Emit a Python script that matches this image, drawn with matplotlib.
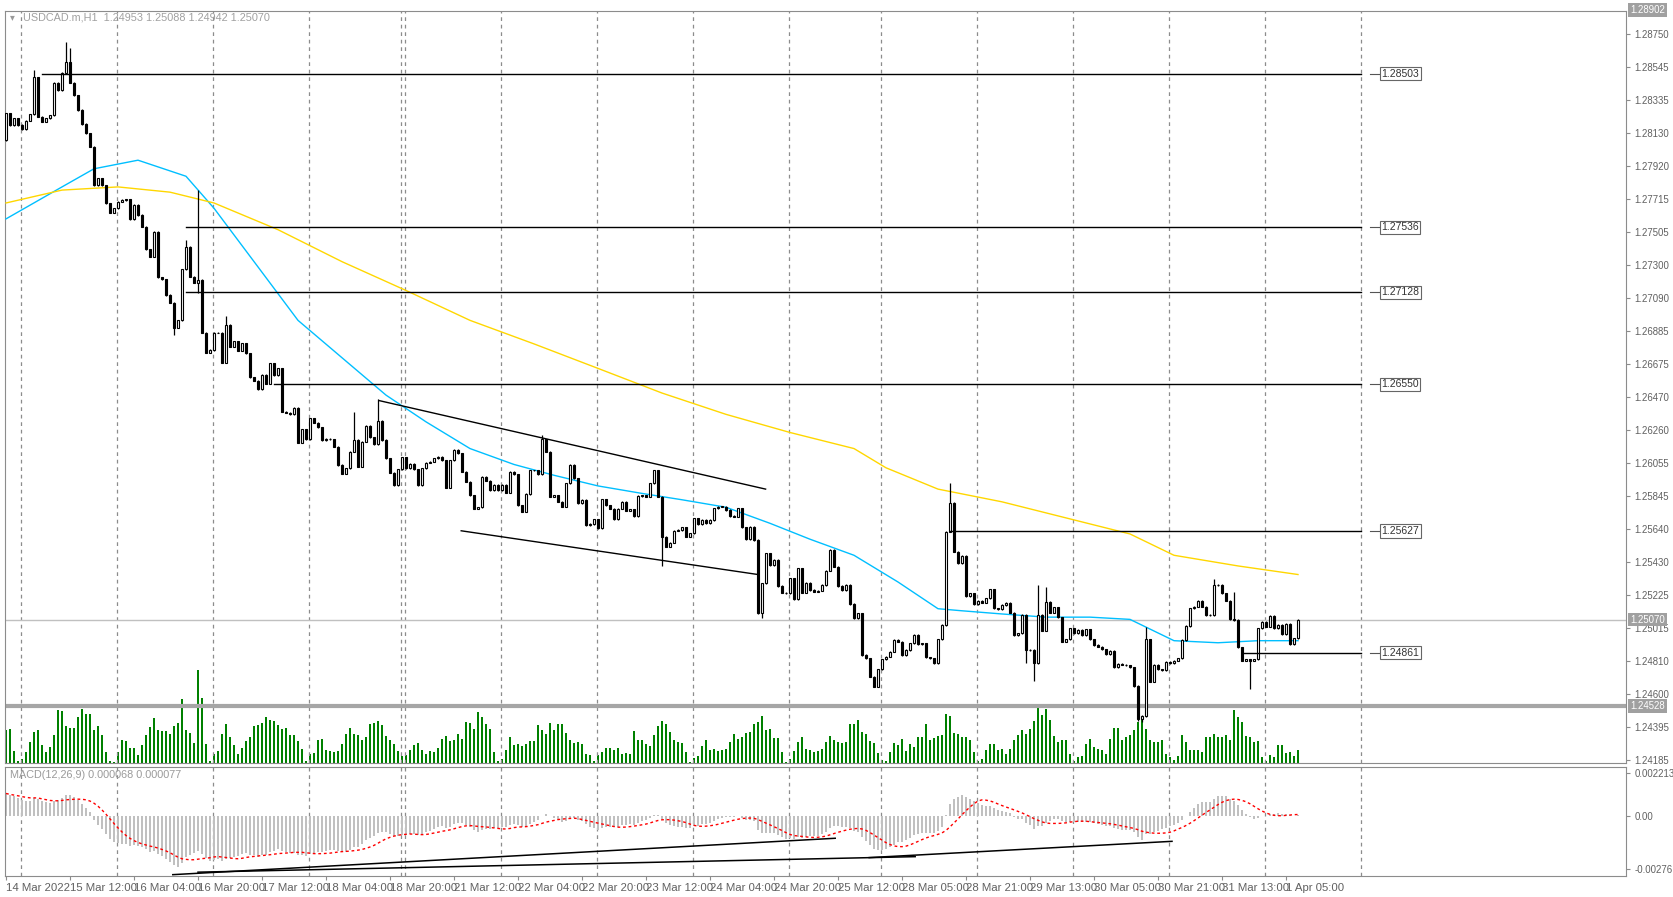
import numpy as np
import pandas as pd
import matplotlib
matplotlib.use("Agg")
import matplotlib.pyplot as plt
from matplotlib.patches import Rectangle
import matplotlib.transforms as mtrans

plt.rcParams['font.family'] = ['Liberation Sans', 'DejaVu Sans']

# ---------------- data ----------------
first_open = 1.28084
closes = [
1.28252,1.28179,1.28221,1.28179,1.28151,1.28206,1.28246,1.28478,1.28231,1.28200,
1.28221,1.28241,1.28445,1.28399,1.28508,1.28573,1.28445,1.28367,1.28273,1.28185,
1.28126,1.28042,1.27801,1.27843,1.27801,1.27686,1.27627,1.27655,1.27697,1.27707,
1.27711,1.27586,1.27676,1.27613,1.27539,1.27397,1.27351,1.27508,1.27221,1.27208,
1.27110,1.27061,1.26904,1.26952,1.27271,1.27414,1.27225,1.27189,1.27204,1.26873,
1.26747,1.26764,1.26873,1.26873,1.26684,1.26921,1.26785,1.26820,1.26760,1.26806,
1.26743,1.26592,1.26571,1.26517,1.26607,1.26554,1.26680,1.26607,1.26649,1.26376,
1.26370,1.26361,1.26403,1.26181,1.26265,1.26202,1.26334,1.26307,1.26278,1.26198,
1.26208,1.26202,1.26156,1.26041,
1.25988,1.26020,1.26125,1.26198,1.26030,1.26188,1.26286,1.26215,1.26173,1.26320,
1.26198,1.26083,1.25993,1.25915,1.26014,1.26089,1.26020,1.26051,1.26014,1.25915,
1.26020,1.26056,1.26062,1.26083,1.26093,1.26072,1.25900,1.26072,1.26139,1.26114,
1.25999,1.25936,1.25852,1.25768,1.25775,1.25968,1.25942,1.25884,1.25915,1.25884,
1.25915,1.25867,1.25999,1.25984,1.25789,1.25747,1.25859,1.26009,1.26009,1.25984,
1.26202,1.26125,1.25842,1.25852,1.25810,1.25779,1.25926,1.26041,1.25957,1.25800,
1.25821,1.25664,1.25670,1.25699,1.25643,1.25825,1.25789,1.25768,1.25699,1.25768,
1.25810,1.25754,1.25762,1.25720,1.25846,1.25852,1.25842,1.25926,1.26009,1.25842,
1.25590,1.25527,1.25553,
1.25629,1.25633,1.25650,1.25591,1.25612,1.25706,1.25671,1.25696,1.25675,1.25696,
1.25769,1.25780,1.25780,1.25759,1.25721,1.25717,1.25769,1.25650,1.25574,1.25654,
1.25570,1.25109,1.25298,1.25486,1.25413,1.25444,1.25281,1.25239,1.25235,1.25329,
1.25197,1.25392,1.25239,1.25302,1.25256,1.25245,1.25251,1.25287,1.25377,1.25507,
1.25402,1.25281,1.25256,1.25287,1.25168,1.25078,1.25109,1.24847,1.24826,1.24711,
1.24648,1.24757,1.24820,1.24836,1.24868,1.24941,1.24931,1.24847,1.24878,1.24920,
1.24973,1.24916,1.24920,1.24832,1.24826,1.24795,1.24945,1.25036,1.25623,1.25805,
1.25497,1.25423,1.25470,1.25218,1.25235,1.25168,1.25189,1.25176,1.25203,1.25260,
1.25140,1.25134,
1.25161,1.25176,1.25113,1.24973,1.24983,1.25098,1.24878,1.24878,1.24794,1.25098,
1.25000,1.25182,1.25113,1.25146,1.25084,1.24931,1.24945,1.25014,1.24983,1.25004,
1.24973,1.25008,1.24945,1.24910,1.24899,1.24882,1.24853,1.24874,1.24769,1.24790,
1.24786,1.24782,1.24769,1.24652,1.24442,1.24463,1.24945,1.24679,1.24784,1.24757,
1.24752,1.24805,1.24794,1.24811,1.24826,1.24941,1.25029,1.25140,1.25151,1.25188,
1.25151,1.25098,1.25098,1.25287,1.25287,1.25235,1.25188,1.25071,1.25067,1.24895,
1.24811,1.24820,1.24811,1.24820,1.25014,1.25056,1.25025,1.25092,1.25014,1.25035,
1.24979,1.25042,1.24916,1.24952,1.25070]

default_wick = 0.00004
spike_high_bars = [7, 15, 16, 45, 48, 55, 87, 93, 134, 236, 258, 260, 285, 302, 307]
spike_high_vals = [1.28524, 1.28703, 1.28661, 1.27456, 1.27770, 1.26978, 1.26376, 1.26454,
                   1.26230, 1.25926, 1.25287, 1.25272, 1.25021, 1.25323, 1.25245]
spike_low_bars = [42, 48, 164, 188, 189, 217, 255, 257, 283, 284, 311]
spike_low_vals = [1.26858, 1.27120, 1.25406, 1.25105, 1.25082, 1.24644, 1.24799, 1.24685,
                  1.24434, 1.24428, 1.24631]

# tick volume (relative units)
vol_tops_a = [118,115,183,213,205,185,155,125,120,165,185,170,135,60,63,108,113,113,80,57,70,72,120,107,135,185,213,215,185,150,153,172,172,195,165,135,110,84,118,122,122,130,108,97,25,118,128,158,-60,22,160,213,190,182,130,102,140,165,190,172,153,140,107,105,98,80,90,92,105,115,112,135,133,153,175,213,190,188,150,145,180,183,185,182,162,130,113,130,135,150,140,100,97,92,105,137,148,160,183,196,195,180,165,158,180,190,183,185,173,145,138,152,148,130,145,95,97,115,65,80,100,115,185,213,205,180,140,165,160,168,160,152,152,103,120,130,98,118,100,100,128,150,158,155,160,190,193,213,195,185,172,172,178,172,192,188,190,122,150,148,162,168]
vol_tops_b = [135,108,93,100,125,148,155,157,185,215,203,198,168,150,180,175,183,180,175,155,132,145,140,128,125,100,95,78,118,115,143,143,185,215,205,182,155,140,175,180,185,182,175,155,138,150,155,157,155,100,102,90,125,130,152,158,188,208,213,185,158,165,145,182,162,170,140,140,102,148,143,136,133,70,78,128,130,140,140,150,185,213,207,180,160,160,180,175,190,175,150,135,118,130,115,93,53,75,55,90,138,155,150,150,190,213,200,198,160,145,170,175,180,190,145,113,113,150,140,135,120,95,80,115,150,155,155,150,190,200,210,198,135,155,180,178,178,185,140,140,132,140,140,135,148,60,80,95,138,140,155,152,200,213,195,200,165,165,188,185,198,180]

ma_fast_bars = [0,14,22,33,45,52,63,73,84,95,105,116,127,137,148,159,169,180,191,201,212,223,233,239,249,260,271,281,292,303,313,323]
ma_fast_vals = [1.27589,1.27790,1.27904,1.27958,1.27857,1.27656,1.27287,1.26951,1.26716,1.26481,1.26313,1.26145,1.26045,1.25977,1.25910,1.25863,1.25823,1.25776,1.25675,1.25575,1.25474,1.25306,1.25138,1.25125,1.25105,1.25085,1.25085,1.25071,1.24937,1.24924,1.24937,1.24937]
ma_slow_bars = [0,14,28,41,52,68,84,100,116,132,148,164,180,196,212,220,233,249,265,281,292,308,323]
ma_slow_vals = [1.27689,1.27770,1.27790,1.27757,1.27689,1.27521,1.27320,1.27139,1.26951,1.26803,1.26649,1.26494,1.26360,1.26246,1.26145,1.26024,1.25890,1.25810,1.25709,1.25608,1.25474,1.25407,1.25353]

level_values = [1.28503, 1.27536, 1.27128, 1.26550, 1.25627, 1.24861]
level_start = [9, 45, 45, 67, 236, 309]
channel_top = [(93.2, 1.26447), (189.9, 1.25890)]
channel_bot = [(113.8, 1.25628), (188.0, 1.25353)]
macd_lines = [[(41.7, -0.00307), (207.3, -0.00117)],
              [(48.0, -0.00294), (227.3, -0.00213)],
              [(215.8, -0.00218), (291.5, -0.00133)]]

date_labels = ["14 Mar 2022","15 Mar 12:00","16 Mar 04:00","16 Mar 20:00","17 Mar 12:00",
               "18 Mar 04:00","18 Mar 20:00","21 Mar 12:00","22 Mar 04:00","22 Mar 20:00",
               "23 Mar 12:00","24 Mar 04:00","24 Mar 20:00","25 Mar 12:00","28 Mar 05:00",
               "28 Mar 21:00","29 Mar 13:00","30 Mar 05:00","30 Mar 21:00","31 Mar 13:00",
               "1 Apr 05:00"]
price_ticks = [1.28750,1.28545,1.28335,1.28130,1.27920,1.27715,1.27505,1.27300,1.27090,
               1.26885,1.26675,1.26470,1.26260,1.26055,1.25845,1.25640,1.25430,1.25225,
               1.25015,1.24810,1.24600,1.24395,1.24185]
grid_bars = [3.8,27.8,51.8,75.8,98.8,99.8,123.8,147.8,171.8,195.8,218.8,242.8,266.8,290.8,314.8,338.8]
current_price = 1.25070
gray_level = 1.24528
top_price = 1.28902

# ---------------- figure ----------------
W, H = 1673, 897
FS = 6.9
FSX = 8.2
fig = plt.figure(figsize=(W/100, H/100), dpi=100)
fig.patch.set_facecolor("white")
def fx(px): return px / W
def fy(py): return 1 - py / H
ax = fig.add_axes([fx(5), fy(763), fx(1626-5), (763-11)/H])
axm = fig.add_axes([fx(5), fy(876), fx(1626-5), (876-767)/H])
axv = ax.twinx()

n = len(closes)
x = np.arange(n)
c = np.array(closes)
o = np.concatenate([[first_open], c[:-1]])
hi = np.maximum(o, c) + default_wick
lo = np.minimum(o, c) - default_wick
for b, v in zip(spike_high_bars, spike_high_vals):
    if b < n: hi[b] = max(hi[b], v)
for b, v in zip(spike_low_bars, spike_low_vals):
    if b < n: lo[b] = min(lo[b], v)

XL = (-0.25, 405)
gray_txt = "#606060"

# volume
vols = (vol_tops_a[:162] + vol_tops_b)[:n]
vh = [218 - t for t in vols]
axv.bar(np.arange(len(vh)), vh, width=0.28, color="#008000", zorder=1)
axv.set_ylim(0, 2256)
axv.set_xlim(*XL)
axv.axis("off")
ax.set_zorder(axv.get_zorder() + 1)
ax.patch.set_visible(False)

# grid
for g in grid_bars:
    for a in (ax, axm):
        a.axvline(g, color="#8c8c8c", lw=0.9, ls=(0, (3, 3)), zorder=0)

# lines
ax.axhline(current_price, color="#c0c0c0", lw=1.0, zorder=1)
ax.axhline(gray_level, color="#a6a6a6", lw=3.0, zorder=2)
ax.plot(ma_fast_bars, ma_fast_vals, color="#00bfff", lw=1.0, zorder=3)
ax.plot(ma_slow_bars, ma_slow_vals, color="#ffd700", lw=1.0, zorder=3)

# candles
for i in range(n):
    ax.plot([i, i], [lo[i], hi[i]], color="black", lw=0.9, zorder=4, solid_capstyle="butt")
    bot, top = min(o[i], c[i]), max(o[i], c[i])
    hgt = max(top - bot, 0.000015)
    fc = "white" if c[i] >= o[i] else "black"
    ax.add_patch(Rectangle((i - 0.3, bot), 0.6, hgt, facecolor=fc, edgecolor="black",
                           lw=0.8, zorder=5))

# levels
for v, s in zip(level_values, level_start):
    ax.plot([s, 338.8], [v, v], color="black", lw=1.0, zorder=6)
    ax.plot([341, 343.5], [v, v], color="#555555", lw=0.8, zorder=6)
    ax.text(343.8, v, f"{v:.5f}", fontsize=FS+0.6, color="#333333", va="center", ha="left",
            zorder=7, bbox=dict(boxstyle="square,pad=0.15", fc="white", ec="#666666", lw=0.8))
for seg in (channel_top, channel_bot):
    ax.plot([seg[0][0], seg[1][0]], [seg[0][1], seg[1][1]], color="black", lw=1.0, zorder=6)

ax.set_xlim(*XL)
ax.set_ylim(1.24168, 1.28896)
ax.yaxis.tick_right()
ax.set_yticks(price_ticks)
ax.set_yticklabels([f"{t:.5f}" for t in price_ticks])
ax.tick_params(axis="y", labelsize=FS, colors="#8c8c8c", labelcolor=gray_txt, length=3, pad=3)
ax.set_xticks([])
for sp in ax.spines.values():
    sp.set_color("#8c8c8c")

blend = mtrans.blended_transform_factory(ax.transAxes, ax.transData)
for v in (top_price, current_price, gray_level):
    ax.text(1.0025, v, f"{v:.5f}", transform=blend, fontsize=FS, color="white",
            va="center", ha="left", zorder=8,
            bbox=dict(boxstyle="square,pad=0.2", fc="#a0a0a0", ec="none"), clip_on=False)

ax.text(0.003, 0.998, "\u25be", transform=ax.transAxes,
        fontsize=FS, color="#9a9a9a", va="top", ha="left", family=['DejaVu Sans'])
ax.text(0.011, 0.998, "USDCAD.m,H1  1.24953 1.25088 1.24942 1.25070", transform=ax.transAxes,
        fontsize=7.8, color="#a0a0a0", va="top", ha="left")

# MACD
s = pd.Series(c)
ema12 = s.copy(); ema26 = s.copy()
e12, e26 = 1.2818, 1.2806
a12, a26 = 2/13, 2/27
for i in range(n):
    e12 = e12 + a12 * (c[i] - e12)
    e26 = e26 + a26 * (c[i] - e26)
    ema12[i] = e12; ema26[i] = e26
macd = (ema12 - ema26).values
signal = pd.Series(macd).rolling(9, min_periods=1).mean().values
axm.bar(x, macd, width=0.6, color="#c0c0c0", zorder=2)
axm.plot(x, signal, color="red", lw=1.0, ls=(0, (2, 2)), zorder=3)
for seg in macd_lines:
    axm.plot([seg[0][0], seg[1][0]], [seg[0][1], seg[1][1]], color="black", lw=1.1, zorder=4)
axm.set_xlim(*XL)
axm.set_ylim(-0.00314, 0.00255)
axm.yaxis.tick_right()
axm.set_yticks([0.002213, 0.0, -0.00276])
axm.set_yticklabels(["0.002213", "0.00", "-0.00276"])
axm.tick_params(axis="y", labelsize=FS, colors="#8c8c8c", labelcolor=gray_txt, length=3, pad=3)
tick_pos = [16 * k for k in range(len(date_labels))]
axm.set_xticks(tick_pos)
axm.set_xticklabels(date_labels, ha="left")
axm.tick_params(axis="x", labelsize=FSX, colors="#8c8c8c", labelcolor=gray_txt, length=3, pad=2)
for sp in axm.spines.values():
    sp.set_color("#8c8c8c")
axm.text(0.003, 0.97, "MACD(12,26,9) 0.000068 0.000077", transform=axm.transAxes,
         fontsize=7.8, color="#9a9a9a", va="top", ha="left")

fig.savefig("out.png", dpi=100)
